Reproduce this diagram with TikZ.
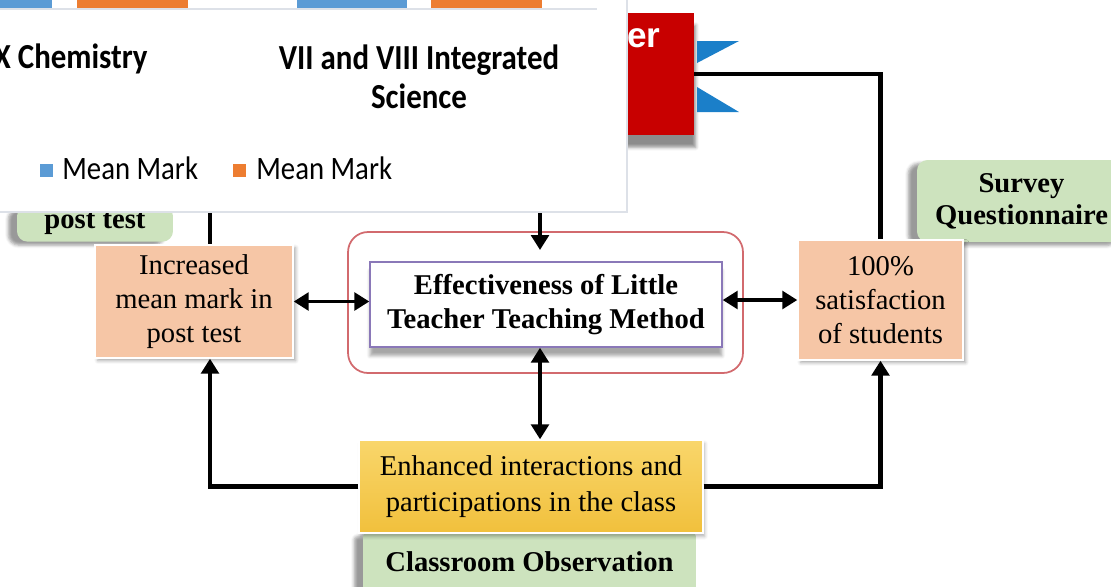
\documentclass[tikz,border=0pt]{standalone}
\usepackage{fontspec}
\setmainfont{Liberation Serif}
\newfontfamily\chartfont[FakeStretch=0.88]{Carlito}
\newfontfamily\flagfont{Liberation Sans}
\usetikzlibrary{arrows.meta,shadows.blur}
\definecolor{peach}{HTML}{F6C6A6}
\definecolor{sage}{HTML}{CDE3BE}
\definecolor{goldtop}{HTML}{F9D66B}
\definecolor{goldbot}{HTML}{F1C03C}
\definecolor{crimson}{HTML}{C80000}
\definecolor{flagblue}{HTML}{1B7FC9}
\definecolor{barblue}{HTML}{5B9BD5}
\definecolor{barorange}{HTML}{ED7D31}
\definecolor{rimred}{HTML}{D26A6E}
\definecolor{rimviolet}{HTML}{8A78B8}
\definecolor{chartrim}{HTML}{DDE1E8}

\begin{document}
\begin{tikzpicture}[x=0.02cm, y=-0.02cm,
    every node/.style={inner sep=0pt},
    txt/.style={font=\fontsize{16.3}{19.3}\selectfont, align=center},
    result/.style={txt, fill=peach, draw=white, line width=0.8pt,
      blur shadow={shadow xshift=1.5pt, shadow yshift=-1.5pt, shadow opacity=35}},
    tool/.style={txt, font=\fontsize{16.3}{18.2}\selectfont\bfseries, fill=sage,
      rounded corners=6pt,
      blur shadow={shadow xshift=-5pt, shadow yshift=-2pt, shadow opacity=40}},
    link/.style={line width=2.7pt},
    into/.style={link, -{Triangle[length=8.5pt,width=10pt]}},
    both/.style={line width=2.1pt, {Triangle[length=8.5pt,width=10pt]}-{Triangle[length=8.5pt,width=10pt]}},
    legend/.style={font=\chartfont\fontsize{18.6}{20}\selectfont, anchor=base west},
  ]
  \useasboundingbox (0,0) rectangle (1111,586);
  \clip (0,0) rectangle (1111,586);

  % boxes of the diagram
  \node[fill=crimson, minimum width=1.88cm, minimum height=2.44cm,
    blur shadow={shadow xshift=1pt, shadow yshift=-7pt, shadow opacity=45}] (tch) at (647,74) {};
  \node[anchor=base east, text=white, font=\flagfont\bfseries\fontsize{20}{24}\selectfont] (tchtxt) at (661,47) {er};
  \fill[flagblue] (697,41) -- (739,41) -- (697,63) -- cycle;
  \fill[flagblue] (697,87) -- (739,112) -- (697,112) -- cycle;

  \node[tool, minimum width=4.18cm, minimum height=1.64cm] (svy) at (1021.5,201) {Survey\\Questionnaire};
  \node[tool, anchor=south, minimum width=3.12cm, text depth=3.5pt, inner ysep=3.9pt] (pst) at (95,242) {post test};

  \node[result, minimum width=3.96cm, minimum height=2.26cm] (inc) at (194,301.5) {Increased\\mean mark in\\post test};
  \node[result, minimum width=3.3cm, minimum height=2.4cm] (sat) at (880.5,300) {100\%\\satisfaction\\of students};

  \node[draw=rimred, line width=1pt, rounded corners=0.4cm, minimum width=7.9cm, minimum height=2.82cm] (frm) at (545.5,302.5) {};
  \node[txt, font=\fontsize{16.3}{19.3}\selectfont\bfseries, draw=rimviolet, fill=white, line width=0.8pt,
    minimum width=7.04cm, minimum height=1.7cm,
    blur shadow={shadow xshift=0pt, shadow yshift=-5pt, shadow opacity=35}] (eff) at (546,304.5)
    {Effectiveness of Little\\Teacher Teaching Method};

  \node[tool, rounded corners=2pt, minimum width=6.66cm, minimum height=1.16cm] (obs) at (529.5,562) {Classroom Observation};
  \node[txt, font=\fontsize{16.3}{20.4}\selectfont, top color=goldtop, bottom color=goldbot, draw=white, line width=0.8pt,
    minimum width=6.88cm, minimum height=1.86cm,
    blur shadow={shadow xshift=1pt, shadow yshift=-2pt, shadow opacity=30}] (enh) at (531,486.5)
    {Enhanced interactions and\\participations in the class};

  % connectors
  \coordinate (pt) at (210,150);
  \coordinate (tsrc) at (540,150);
  \coordinate (tin) at (540,250);
  \draw[link] (tch.east) -| (sat.north);
  \draw[link] (pt) -- (pt |- inc.north);
  \draw[into] (tsrc) -- (tin);
  \draw[both] (inc.east) -- (inc.east -| eff.west);
  \draw[both] (sat.west -| eff.east) -- (sat.west);
  \draw[both] (eff.south -| tin) -- (enh.north -| tin);
  \draw[into] (enh.west) -| (pt |- inc.south);
  \draw[into] (enh.east) -| (sat.south);

  % chart lying over the diagram
  \fill[white] (-5,-5) rectangle (627,212);
  \draw[chartrim, line width=1.2pt] (627,-5) -- (627,212) -- (-5,212);
  \fill[barblue] (0,-2) rectangle (52,8);
  \fill[barorange] (77,-2) rectangle (188,8);
  \fill[barblue] (297,-2) rectangle (407,8);
  \fill[barorange] (431,-2) rectangle (542,8);
  \draw[chartrim, line width=1pt] (0,9) -- (597,9);
  \node[anchor=base east, font=\chartfont\bfseries\fontsize{20}{22}\selectfont] (chem) at (148,68) {X Chemistry};
  \node[align=center, font=\chartfont\bfseries\fontsize{20}{22}\selectfont] (intg) at (419,77) {VII and VIII Integrated\\Science};
  \fill[barblue] (40,164) rectangle (53,177);
  \node[legend] (lgb) at (62,179) {Mean Mark};
  \fill[barorange] (233,164) rectangle (246,177);
  \node[legend] (lgo) at (256,179) {Mean Mark};
\end{tikzpicture}
\end{document}
